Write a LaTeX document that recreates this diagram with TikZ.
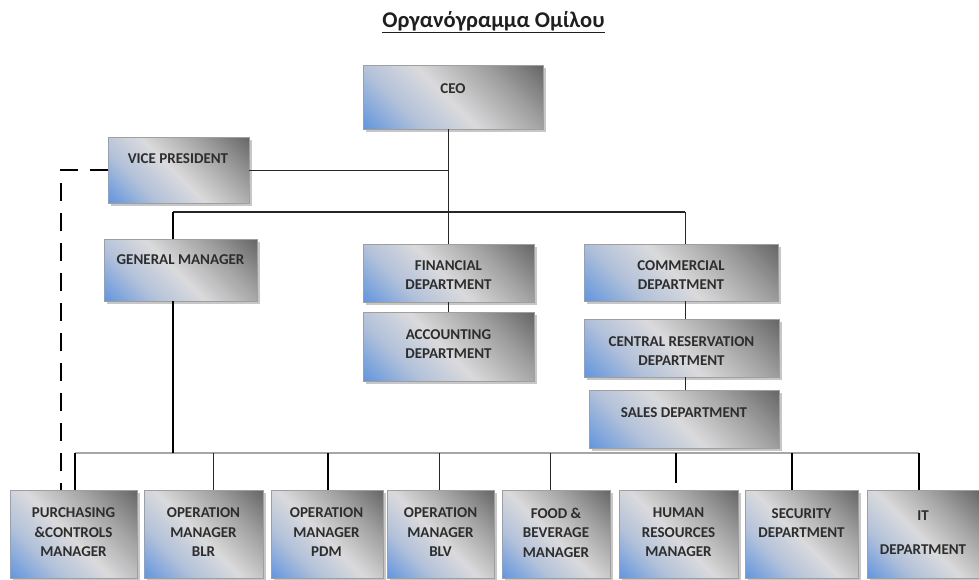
\documentclass[tikz,border=0pt]{standalone}
\usepackage{fontspec}
\setmainfont{Carlito}
\usetikzlibrary{shadows,calc}
\definecolor{gBlue}{RGB}{100,150,222}
\definecolor{gBlueL}{RGB}{178,193,218}
\definecolor{gLight}{RGB}{218,218,220}
\definecolor{gMid}{RGB}{160,160,160}
\definecolor{gDark}{RGB}{100,100,100}
\definecolor{txtc}{RGB}{45,45,45}
\pgfdeclarehorizontalshading{boxgrad}{100bp}{color(0bp)=(gBlue); color(15bp)=(gBlue); color(32bp)=(gBlueL); color(48bp)=(gLight); color(68bp)=(gMid); color(86bp)=(gDark); color(100bp)=(gDark)}
\tikzset{
  box/.style={draw=gray!75, line width=0.8pt, shading=boxgrad, shading angle=45,
    drop shadow={shadow xshift=2.5pt, shadow yshift=-2.5pt, opacity=0.22, fill=black}, inner sep=0pt},
  lbl/.style={font=\bfseries\fontsize{15}{19.5}\selectfont, text=txtc, align=center, inner sep=0pt},
  conn/.style={line width=1pt, draw=black!85},
  heavy/.style={line width=2.2pt, draw=black},
  busline/.style={line width=2pt, draw=gray!70},
  dashc/.style={line width=2.8pt, draw=black, dash pattern=on 18pt off 12pt}
}
\newcommand\bx[5]{\node[box,minimum width={#4-#2},minimum height={#5-#3}] (#1) at ({(#2+#4)/2},{(#3+#5)/2}) {};}
\begin{document}
\begin{tikzpicture}[x=1pt,y=-1pt]
\useasboundingbox (0,0) rectangle (979,579);
\fill[white] (0,0) rectangle (979,579);
\node[font=\bfseries\fontsize{22.5}{26}\selectfont, text=black!88, inner sep=0pt] (title) at (493.5,22) {\underline{Οργανόγραμμα Ομίλου}};

% coordinates for connector lines
\coordinate (gx) at (173,212);
\coordinate (cx) at (685,212);
\coordinate (dx) at (61,0);
\coordinate (busL) at (75,453);
\coordinate (busR) at (919,453);
\coordinate (gmb) at (173,453);
\coordinate (hrend) at (676,483);

% connectors (under boxes)
\draw[conn] (448.5,129) coordinate (ceob) -- (448.5,244) coordinate (finb);
\draw[conn, line width=1.3pt] (gx) -- (cx);
\draw[busline] (busL) -- (busR);

% boxes
\bx{ceo}{363}{65}{543}{129}
\bx{vp}{108}{137}{249}{203}
\bx{gm}{104}{239}{257}{301}
\bx{fin}{363}{244}{534}{302}
\bx{acc}{363}{312}{534}{381}
\bx{com}{584}{244}{778}{301}
\bx{cen}{584}{319}{779}{377}
\bx{sal}{589}{390}{779}{448}
\bx{pur}{10}{490}{137}{578}
\bx{blr}{144}{490}{263}{578}
\bx{pdm}{271}{490}{383}{578}
\bx{blv}{387}{490}{494}{578}
\bx{fb}{502}{490}{610}{578}
\bx{hr}{619}{490}{738}{578}
\bx{sec}{745}{490}{858}{578}
\bx{it}{867}{490}{979}{578}

% labels
\node[lbl] (ceo-t) at (453,89) {CEO};
\node[lbl] (vp-t) at (178,159) {VICE PRESIDENT};
\node[lbl] (gm-t) at (180.5,260) {GENERAL MANAGER};
\node[lbl] (fin-t) at (448.5,275) {FINANCIAL\\DEPARTMENT};
\node[lbl] (acc-t) at (448.5,344) {ACCOUNTING\\DEPARTMENT};
\node[lbl] (com-t) at (681,275) {COMMERCIAL\\DEPARTMENT};
\node[lbl] (cen-t) at (681.5,351) {CENTRAL RESERVATION\\DEPARTMENT};
\node[lbl] (sal-t) at (684,413) {SALES DEPARTMENT};
\node[lbl] (pur-t) at (73.5,532.5) {PURCHASING\\\&CONTROLS\\MANAGER};
\node[lbl] (blr-t) at (203.5,532.5) {OPERATION\\MANAGER\\BLR};
\node[lbl] (pdm-t) at (326.5,532.5) {OPERATION\\MANAGER\\PDM};
\node[lbl] (blv-t) at (440.5,532.5) {OPERATION\\MANAGER\\BLV};
\node[lbl] (fb-t) at (556,532.5) {FOOD \&\\BEVERAGE\\MANAGER};
\node[lbl] (hr-t) at (678.5,532.5) {HUMAN\\RESOURCES\\MANAGER};
\node[lbl] (sec-t) at (801.5,523) {SECURITY\\DEPARTMENT};
\node[lbl] (it-t) at (923,532.5) {IT\\[15pt]DEPARTMENT};

% connectors between boxes
\draw[conn] (vp.east) -- (vp.east -| ceob);
\draw[conn] (ceo.south -| ceob) -- (fin.north -| ceob);
\draw[conn] (fin.south -| ceob) -- (acc.north -| ceob);
\draw[heavy] (gx) -- (gm.north -| gx);
\draw[conn] (cx) -- (com.north -| cx);
\draw[conn] (com.south -| cx) -- (cen.north -| cx);
\draw[conn] (cen.south -| cx) -- (sal.north -| cx);
\draw[heavy] (gm.south -| gx) -- (gmb);
\draw[heavy] (busL) -- (pur.north -| busL);
\draw[conn] (213,453) -- (blr.north -| 213,0);
\draw[heavy] (328,453) -- (pdm.north -| 328,0);
\draw[conn] (439,453) -- (blv.north -| 439,0);
\draw[conn] (550,453) -- (fb.north -| 550,0);
\draw[heavy] (676,453) -- (hrend);
\draw[heavy] (792,453) -- (sec.north -| 792,0);
\draw[heavy] (busR) -- (it.north -| busR);
\draw[dashc] (vp.west) -| (pur.north -| dx);
\end{tikzpicture}
\end{document}
